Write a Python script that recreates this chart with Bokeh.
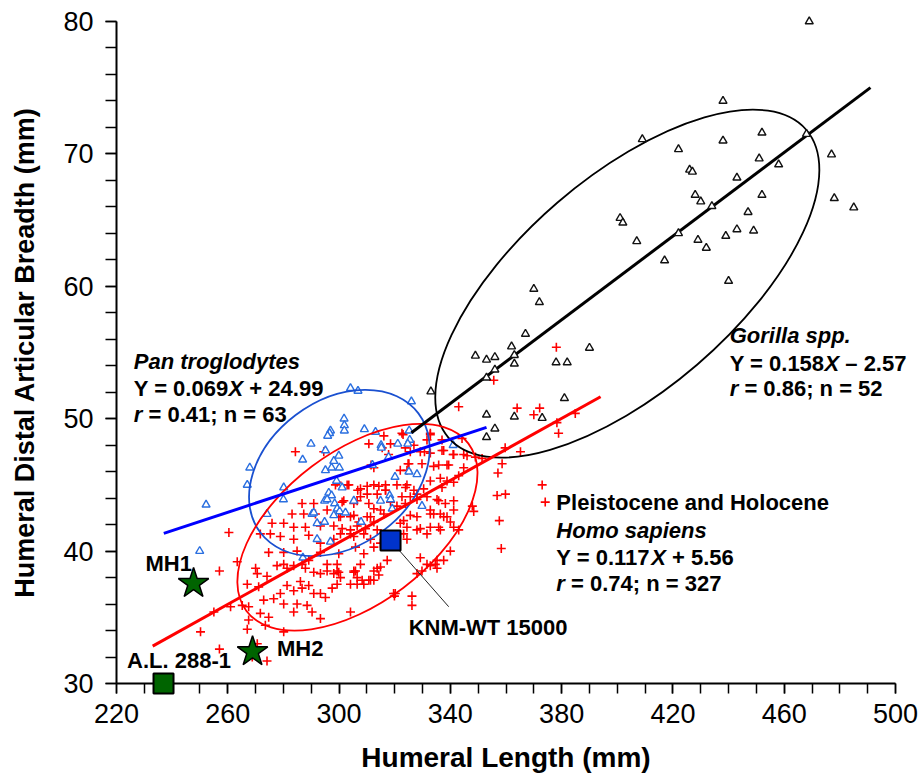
from bokeh.plotting import figure
from bokeh.models import Range1d, FixedTicker, ColumnDataSource
from bokeh.core.properties import value
from bokeh.embed import file_html
from bokeh.resources import INLINE
import math

FONT = "Liberation Sans"

# ---------------- data ----------------
gorilla_x = [469, 438, 409, 438, 452, 468, 422, 451, 458, 477, 426, 427, 443, 428, 430, 434, 452, 478, 485,
             401, 402, 447, 422, 443, 449, 439, 407, 429, 432, 417, 440,
             372, 370, 367, 362, 390, 349, 353, 356, 363, 363, 378, 382, 356, 353, 333, 381, 353, 363, 373, 356, 353]
gorilla_y = [80.0, 74.0, 71.1, 71.0, 71.6, 71.5, 70.35, 69.65, 69.2, 69.95, 68.8, 68.65, 68.2, 66.9, 66.4, 66.05, 66.9, 66.65, 65.95,
             65.15, 64.8, 65.6, 64.0, 64.3, 64.2, 63.8, 63.4, 63.5, 62.9, 61.95, 60.4,
             58.8, 59.8, 56.4, 55.45, 55.35, 54.75, 54.45, 54.65, 54.8, 54.15, 54.25, 54.25, 53.7, 53.1, 52.05, 51.55, 50.3, 50.15, 50.05, 49.25, 48.6]

pan_x = [304.1, 306.8, 326.0, 301.8, 301.9, 301.9, 296.9, 296.6, 295.9, 309.1, 313.1, 289.9, 295.1, 315.1, 321.1, 325.2,
         325.4, 324.7, 341.0, 299.9, 286.9, 298.1, 317.8, 312.0, 295.1, 297.3, 300.1, 267.9, 267.0, 320.1, 325.1, 328.0,
         299.1, 301.1, 280.1, 280.0, 296.3, 297.3, 305.3, 294.8, 295.7, 298.4, 299.3, 300.2, 318.2, 314.9, 252.2, 329.8,
         319.1, 274.1, 290.3, 290.9, 298.1, 302.3, 307.9, 292.1, 294.8, 292.1, 296.9, 287.0, 249.9, 315.2, 318.5]
pan_y = [52.3, 52.1, 51.3, 50.0, 49.5, 49.1, 49.1, 48.9, 48.7, 49.2, 49.0, 48.1, 47.6, 48.0, 48.1, 49.1,
         48.4, 48.1, 48.0, 47.2, 46.9, 46.8, 47.1, 46.5, 46.1, 46.3, 46.3, 46.3, 45.0, 45.6, 46.0, 45.8,
         45.3, 44.8, 44.8, 43.9, 44.4, 44.2, 43.8, 43.8, 43.9, 43.6, 43.2, 43.0, 44.2, 43.8, 43.5, 43.4,
         43.2, 42.8, 42.8, 42.9, 42.7, 42.9, 42.2, 42.1, 42.2, 40.9, 40.7, 39.5, 40.0, 47.8, 43.9]

homo_x = [257.0, 263.4, 270.0, 270.6, 274.1, 277.7, 280.1, 281.3, 283.7, 286.7, 287.9, 290.9, 293.3, 295.7, 298.1, 299.9,
          305.3, 306.5, 308.3, 310.7, 312.5, 314.3, 313.7, 267.0, 271.1, 272.9, 276.5, 278.9, 281.3, 283.7, 286.1, 286.7,
          289.1, 290.9, 293.3, 295.1, 297.5, 299.3, 304.1, 265.2, 267.5, 271.7, 274.7, 280.1, 283.7, 284.9, 288.5, 290.3,
          293.3, 304.1, 320.2, 326.2, 326.2, 329.8, 334.6, 337.6, 250.2, 255.0, 261.0, 267.5, 267.0, 273.5, 280.1, 257.0,
          270.6, 274.1, 268.8,
          284.3, 294.5, 323.0, 332.8, 330.7, 337.0, 341.0, 324.8, 334.0, 339.4, 311.5, 299.3, 302.9, 306.7, 310.1, 314.3,
          316.7, 323.9, 326.9, 330.4, 337.0, 286.7, 290.9, 295.7, 301.1, 305.3, 307.7, 310.7, 312.5, 318.5, 320.8, 325.6,
          328.0, 335.2, 341.2, 283.1, 287.3, 291.5, 299.9, 305.3, 310.1, 316.1, 325.6, 328.0, 334.0, 337.6, 275.9, 280.1,
          283.7, 287.9, 293.3, 298.1, 301.1, 304.1, 306.5, 309.5, 312.5, 323.2, 324.4, 329.2, 332.8, 336.4, 341.2, 260.4,
          271.7, 275.3, 278.9, 283.7, 289.1, 293.3, 298.1, 305.3, 311.3, 314.9, 320.2, 274.7, 280.1, 284.9, 289.1, 293.3,
          295.7, 299.3, 305.3, 307.7, 312.5, 317.3, 329.2, 335.2, 340.0,
          378.1, 355.6, 343.0, 364.0, 372.1, 370.0, 384.9, 378.3, 378.9, 359.7, 365.2, 351.4, 358.6, 357.1, 373.0, 356.8,
          359.8, 374.1, 348.4, 358.3, 346.0, 344.8, 343.0, 341.2, 336.4, 337.6, 322.6, 326.9, 332.8, 332.8, 329.8, 335.8,
          338.8, 325.1, 312.5, 315.5, 318.5, 324.4, 328.0, 331.6, 335.8, 338.2, 341.2, 343.0, 335.8, 331.6, 328.0, 324.4,
          331.6, 328.0, 319.6, 314.9, 311.3, 306.5, 308.9, 300.5, 305.9, 299.3, 312.5, 305.9, 308.9, 299.9, 313.7, 308.9,
          304.1, 300.5, 300.5, 304.1, 307.1, 311.3, 314.9, 301.7, 306.5, 310.1, 313.7, 316.7, 298.7, 303.5, 307.7, 312.5,
          316.7, 320.8, 322.0, 324.4, 323.8, 325.6, 329.2, 332.8, 338.8, 322.6, 323.8, 332.8, 336.4, 338.8, 341.2, 344.8,
          344.2, 349.0, 337.0, 331.6, 310.7, 316.1, 317.8,
          335.2, 332.8, 319.9, 340.0, 332.8, 323.2, 322.0, 357.6, 347.9]
homo_y = [38.5, 39.2, 38.7, 38.3, 38.1, 38.9, 39.0, 38.7, 38.9, 39.0, 38.7, 38.4, 38.3, 38.5, 38.3, 38.4,
          38.4, 38.0, 37.8, 37.8, 37.8, 38.2, 38.7, 37.5, 37.3, 36.3, 36.4, 36.8, 37.4, 37.0, 37.7, 37.2,
          37.4, 36.8, 36.8, 36.5, 37.2, 37.5, 37.5, 35.9, 35.8, 35.3, 35.0, 36.0, 35.4, 36.0, 35.9, 35.4,
          34.9, 35.4, 36.8, 36.6, 35.9, 38.5, 39.0, 39.3, 33.9, 35.4, 35.8, 34.8, 34.1, 34.4, 33.9, 32.6,
          33.0, 31.7, 32.0,
          47.5, 47.5, 48.8, 48.8, 47.5, 47.6, 47.3, 46.6, 46.4, 46.5, 46.5, 45.2, 45.0, 44.6, 44.9, 44.9,
          44.6, 44.8, 44.6, 44.7, 44.8, 43.6, 43.6, 43.1, 43.7, 43.6, 44.1, 43.6, 43.2, 43.7, 43.4, 44.1,
          43.9, 43.9, 43.8, 42.8, 42.8, 42.8, 42.6, 42.7, 42.6, 42.8, 42.7, 42.6, 42.8, 42.6, 42.1, 42.1,
          41.8, 41.8, 41.9, 41.9, 41.7, 41.6, 41.9, 41.7, 42.2, 42.3, 41.8, 41.7, 41.8, 41.6, 41.8, 41.4,
          41.3, 41.3, 41.1, 40.9, 41.2, 40.6, 40.9, 41.1, 40.9, 40.6, 41.1, 39.9, 39.9, 40.0, 39.3, 39.9,
          39.0, 39.0, 38.5, 39.0, 38.5, 39.3, 39.5, 39.3, 40.0,
          55.4, 52.9, 50.9, 50.8, 50.8, 50.3, 50.4, 49.7, 48.9, 47.8, 47.5, 47.0, 46.6, 45.9, 45.0, 44.2,
          44.3, 43.7, 43.0, 40.2, 47.2, 46.3, 45.7, 45.2, 45.5, 47.6, 48.9, 48.0, 48.9, 47.4, 46.6, 46.5,
          46.5, 46.6, 46.3, 47.8, 48.1, 45.0, 44.3, 44.1, 43.8, 43.6, 43.1, 41.6, 41.8, 41.3, 41.6, 40.9,
          39.0, 38.3, 36.8, 38.8, 37.8, 37.5, 37.5, 38.0, 38.5, 38.5, 40.3, 40.3, 39.8, 39.8, 41.6, 41.3,
          41.3, 41.3, 42.6, 42.6, 42.2, 42.6, 43.1, 43.8, 43.8, 44.3, 44.3, 44.6, 45.0, 45.0, 44.7, 45.0,
          45.0, 45.0, 46.1, 46.1, 47.8, 47.5, 47.5, 45.3, 45.3, 44.1, 43.6, 42.8, 42.8, 42.6, 47.3, 47.3,
          48.5, 47.1, 48.4, 48.4, 48.1, 48.7, 47.3,
          38.7, 38.9, 36.6, 42.2, 43.1, 41.3, 42.1, 42.3, 43.4]

# regression lines: slope, intercept, x extent
pan_fit = (0.069, 24.99, [237, 353])
gor_fit = (0.158, -2.57, [326, 491])
homo_fit = (0.117, 5.56, [233, 394])

# fossil specimens
fossil_names = ["MH1", "MH2", "A.L. 288-1", "KNM-WT 15000"]
fossil_x = [247.7, 268.9, 236.9, 318.5]
fossil_y = [37.55, 32.4, 30.0, 40.8]

x_ticks = list(range(220, 501, 40))
y_ticks = list(range(30, 81, 10))

# ---------------- figure ----------------
p = figure(width=923, height=783, output_backend="svg", toolbar_location=None,
           x_range=Range1d(220, 500), y_range=Range1d(30, 80),
           min_border_left=116, min_border_right=28, min_border_top=21, min_border_bottom=100)
p.outline_line_color = None
p.grid.visible = False
p.background_fill_color = "white"
p.border_fill_color = "white"

for ax in (p.xaxis[0], p.yaxis[0]):
    ax.axis_line_width = 2
    ax.axis_line_color = "black"
    ax.major_tick_line_width = 1.5
    ax.minor_tick_line_width = 1.5
    ax.major_tick_in = 0
    ax.minor_tick_in = 0
    ax.major_label_text_font = FONT
    ax.major_label_text_font_size = "27px"
    ax.major_label_text_color = "black"
    ax.axis_label_text_font = FONT
    ax.axis_label_text_font_style = "bold"
    ax.axis_label_text_color = "black"

p.xaxis.ticker = FixedTicker(ticks=x_ticks, minor_ticks=list(range(220, 501, 10)))
p.yaxis.ticker = FixedTicker(ticks=y_ticks, minor_ticks=list(range(30, 81, 2)))
p.xaxis.major_tick_out = 10
p.xaxis.minor_tick_out = 10
p.yaxis.major_tick_out = 11
p.yaxis.minor_tick_out = 11
p.xaxis.major_label_standoff = 10
p.yaxis.major_label_standoff = 12
p.xaxis.axis_label = "Humeral Length (mm)"
p.yaxis.axis_label = "Humeral Distal Articular Breadth (mm)"
p.xaxis.axis_label_text_font_size = "28px"
p.yaxis.axis_label_text_font_size = "27px"
p.xaxis.axis_label_standoff = 16
p.yaxis.axis_label_standoff = 20

# ---------------- points ----------------
p.scatter(homo_x, homo_y, marker="cross", size=9, line_color="#ff0000", line_width=1.6)
p.scatter(pan_x, pan_y, marker="triangle", size=8, line_color="#2a6fe0", fill_color="white", line_width=1.4)

# ---------------- ellipses (center in data, axes in screen px) ----------------
ell = dict(x=[403.6, 300.1, 306.6], y=[60.2, 45.9, 41.8],
           w=[472, 198, 278], h=[214, 145, 152],
           a=[math.radians(40.7), math.radians(37), math.radians(37)],
           c=["black", "#1a50d0", "#ff0000"])
p.ellipse(x="x", y="y", width="w", height="h", angle="a", width_units="screen", height_units="screen",
          fill_color=None, line_color="c", line_width=1.8, source=ColumnDataSource(ell))

# ---------------- regression lines ----------------
for (m, b, xs), col in ((homo_fit, "#ff0000"), (pan_fit, "#0000ff"), (gor_fit, "black")):
    p.line(xs, [m * v + b for v in xs], line_color=col, line_width=3)

# gorilla points drawn unclipped so the 80 mm specimen at the top edge is whole
p.scatter(gorilla_x, gorilla_y, marker="triangle", size=8, line_color="#111111", fill_color="white",
          line_width=1.4, level="overlay")

# leader line for KNM-WT 15000
p.line([fossil_x[3], 339.4], [fossil_y[3], 35.8], line_color="#222222", line_width=1)

# ---------------- fossils ----------------
p.scatter(fossil_x[:2], fossil_y[:2], marker="star", size=32, fill_color="#006400", line_color="black",
          line_width=1.5, level="overlay")
p.scatter([fossil_x[2]], [fossil_y[2]], marker="square", size=20, fill_color="#006400", line_color="black",
          line_width=2, level="overlay")
p.scatter([fossil_x[3]], [fossil_y[3]], marker="square", size=20, fill_color="#0033cc", line_color="black",
          line_width=2, level="overlay")

# ---------------- text ----------------
def txt(x, y, s, style="bold", dx=0):
    p.text(x=[x], y=[y], text=[s], x_offset=dx, text_font=value(FONT), text_font_size="22px",
           text_font_style=style, text_color="black", text_baseline="middle", text_align="left",
           level="overlay")

txt(230.4, 39.06, fossil_names[0])
txt(277.7, 32.67, fossil_names[1])
txt(223.8, 31.7, fossil_names[2])
txt(325.0, 34.2, fossil_names[3])

W_EQ = 94.8   # width of "Y = 0.069" at 22px bold
W_X = 14.7    # italic X
W_R = 8.6     # italic r
W_SP = 6.1    # space

def block(x, ys, title_lines, m, b, r, n):
    i = 0
    for t, st in title_lines:
        txt(x, ys[i], t, st)
        i += 1
    sign = "+" if b >= 0 else "\u2013"
    txt(x, ys[i], "Y = %.3f" % m)
    txt(x, ys[i], "X", "bold italic", W_EQ)
    txt(x, ys[i], "%s %.2f" % (sign, abs(b)), "bold", W_EQ + W_X + W_SP)
    txt(x, ys[i + 1], "r", "bold italic")
    txt(x, ys[i + 1], "= %.2f; n = %d" % (r, n), "bold", W_R + W_SP)

block(226.2, [54.30, 52.26, 50.32], [("Pan troglodytes", "bold italic")], 0.069, 24.99, 0.41, 63)
block(440.4, [56.28, 54.15, 52.26], [("Gorilla spp.", "bold italic")], 0.158, -2.57, 0.86, 52)
block(378.1, [43.69, 41.56, 39.54, 37.53], [("Pleistocene and Holocene", "bold"), ("Homo sapiens", "bold italic")],
      0.117, 5.56, 0.74, 327)

open("out.html", "w").write(file_html(p, INLINE))
